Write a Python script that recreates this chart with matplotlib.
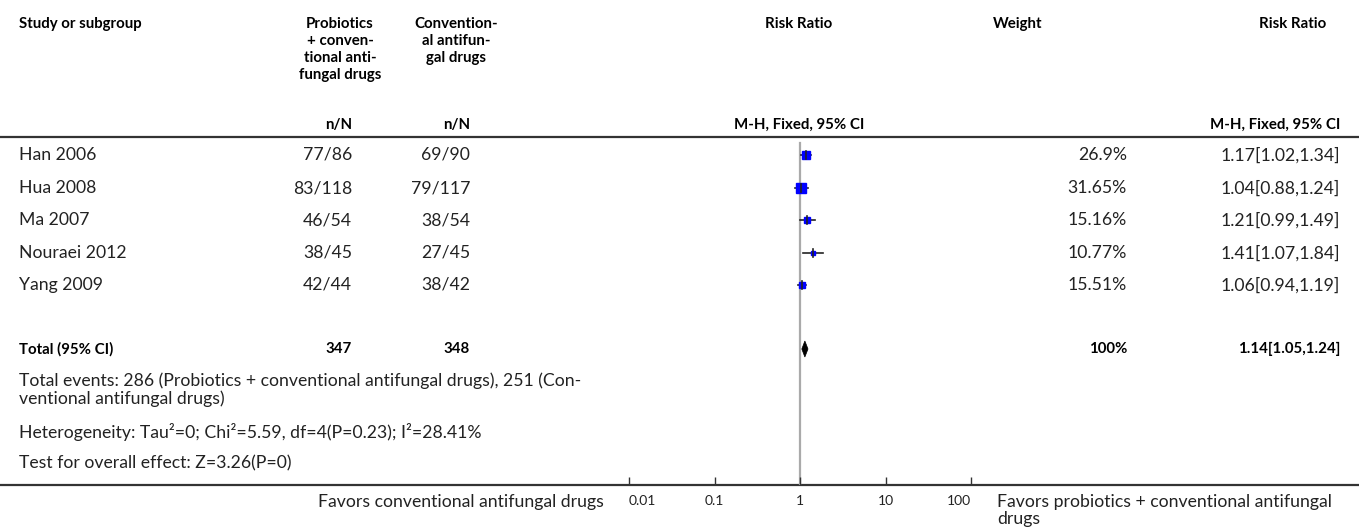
import matplotlib
matplotlib.use("Agg")
import matplotlib.pyplot as plt
from matplotlib.patches import Polygon

plt.rcParams['font.family'] = ['Lato', 'DejaVu Sans']

# ---------------- data ----------------
studies = ["Han 2006", "Hua 2008", "Ma 2007", "Nouraei 2012", "Yang 2009"]
exp_events = [77, 83, 46, 38, 42]
exp_total = [86, 118, 54, 45, 44]
ctl_events = [69, 79, 38, 27, 38]
ctl_total = [90, 117, 54, 45, 42]
weights = [26.9, 31.65, 15.16, 10.77, 15.51]
rr = [1.17, 1.04, 1.21, 1.41, 1.06]
rr_lo = [1.02, 0.88, 0.99, 1.07, 0.94]
rr_hi = [1.34, 1.24, 1.49, 1.84, 1.19]
total_exp = 347
total_ctl = 348
total_weight = "100%"
total_rr, total_lo, total_hi = 1.14, 1.05, 1.24
tick_vals = [0.01, 0.1, 1, 10, 100]
tick_labels = ["0.01", "0.1", "1", "10", "100"]

W, H = 1359, 532
fig = plt.figure(figsize=(W / 100, H / 100), dpi=100)

# full-figure pixel axes for table text
ax = fig.add_axes([0, 0, 1, 1])
ax.set_xlim(0, W)
ax.set_ylim(H, 0)
ax.axis('off')

bold = dict(fontweight='bold', fontsize=10.8, color='black')
norm = dict(fontsize=12.7, color='#222222')

# headers
ax.text(19, 24, "Study or subgroup", ha='left', va='center', **bold)
for i, line in enumerate(["Probiotics", "+ conven-", "tional anti-", "fungal drugs"]):
    ax.text(340, 24 + 17 * i, line, ha='center', va='center', **bold)
for i, line in enumerate(["Convention-", "al antifun-", "gal drugs"]):
    ax.text(456, 24 + 17 * i, line, ha='center', va='center', **bold)
ax.text(799, 24, "Risk Ratio", ha='center', va='center', **bold)
ax.text(1018, 24, "Weight", ha='center', va='center', **bold)
ax.text(1293, 24, "Risk Ratio", ha='center', va='center', **bold)
ax.text(352, 125, "n/N", ha='right', va='center', **bold)
ax.text(470, 125, "n/N", ha='right', va='center', **bold)
ax.text(799, 125, "M-H, Fixed, 95% CI", ha='center', va='center', **bold)
ax.text(1340, 125, "M-H, Fixed, 95% CI", ha='right', va='center', **bold)
ax.plot([0, W], [137, 137], color='#333333', lw=1.6, solid_capstyle='butt')

row_y = [155, 188, 220, 253, 285]
for y, s, ee, et, ce, ct, w, r, lo, hi in zip(row_y, studies, exp_events, exp_total,
                                             ctl_events, ctl_total, weights, rr, rr_lo, rr_hi):
    ax.text(19, y, s, ha='left', va='center', **norm)
    ax.text(352, y, f"{ee}/{et}", ha='right', va='center', **norm)
    ax.text(470, y, f"{ce}/{ct}", ha='right', va='center', **norm)
    ax.text(1127, y, f"{w:g}%", ha='right', va='center', **norm)
    ax.text(1340, y, f"{r:.2f}[{lo:.2f},{hi:.2f}]", ha='right', va='center', **norm)

ty = 349
ax.text(19, ty, "Total (95% CI)", ha='left', va='center', **bold)
ax.text(352, ty, str(total_exp), ha='right', va='center', **bold)
ax.text(470, ty, str(total_ctl), ha='right', va='center', **bold)
ax.text(1127, ty, total_weight, ha='right', va='center', **bold)
ax.text(1340, ty, f"{total_rr:.2f}[{total_lo:.2f},{total_hi:.2f}]", ha='right', va='center', **bold)

ax.text(19, 381, "Total events: 286 (Probiotics + conventional antifungal drugs), 251 (Con-",
        ha='left', va='center', **norm)
ax.text(19, 399, "ventional antifungal drugs)", ha='left', va='center', **norm)
ax.text(19, 432, "Heterogeneity: Tau\u00b2=0; Chi\u00b2=5.59, df=4(P=0.23); I\u00b2=28.41%",
        ha='left', va='center', **norm)
ax.text(19, 463, "Test for overall effect: Z=3.26(P=0)", ha='left', va='center', **norm)

ax.plot([0, W], [485, 485], color='#333333', lw=1.6, solid_capstyle='butt')
ax.text(604, 502, "Favors conventional antifungal drugs", ha='right', va='center', **norm)
ax.text(997, 502, "Favors probiotics + conventional antifungal", ha='left', va='center', **norm)
ax.text(997, 519, "drugs", ha='left', va='center', **norm)

# ---------------- forest axes ----------------
x0, x1 = 629, 971
y_bottom = 485
fax = fig.add_axes([x0 / W, (H - y_bottom) / H, (x1 - x0) / W, y_bottom / H])
fax.set_xscale('log')
fax.set_xlim(0.01, 100)
fax.set_ylim(y_bottom, 0)
fax.patch.set_alpha(0)
for sp in ['top', 'left', 'right', 'bottom']:
    fax.spines[sp].set_visible(False)
fax.set_yticks([])
fax.set_xticks(tick_vals)
fax.set_xticklabels(tick_labels)
fax.xaxis.set_minor_locator(matplotlib.ticker.NullLocator())
fax.tick_params(axis='x', direction='in', length=6, width=1, color='#333333',
                labelsize=10, labelcolor='#222222', pad=7)
tl = fax.get_xticklabels()
tl[0].set_horizontalalignment('left')
tl[0].set_x(0.01)
tl[-1].set_horizontalalignment('right')

fax.plot([1, 1], [143, y_bottom], color='#aaaaaa', lw=1.6, zorder=1)

for y, w, r, lo, hi in zip(row_y, weights, rr, rr_lo, rr_hi):
    fax.plot([lo, hi], [y, y], color='#222222', lw=1.2, zorder=2)
    side_px = 0.33 * w
    fax.plot([r], [y], marker='s', markersize=side_px * 0.72, color='#0000ff',
             markeredgecolor='#0000ff', linestyle='none', zorder=3)
    fax.plot([r, r], [y - 4, y + 4], color='#222222', lw=1.2, zorder=4)

diamond = Polygon([[total_lo, ty], [total_rr, ty - 8], [total_hi, ty], [total_rr, ty + 8]],
                  closed=True, facecolor='black', edgecolor='black', lw=0.5, zorder=3)
fax.add_patch(diamond)

fig.savefig("out.png", dpi=100)
